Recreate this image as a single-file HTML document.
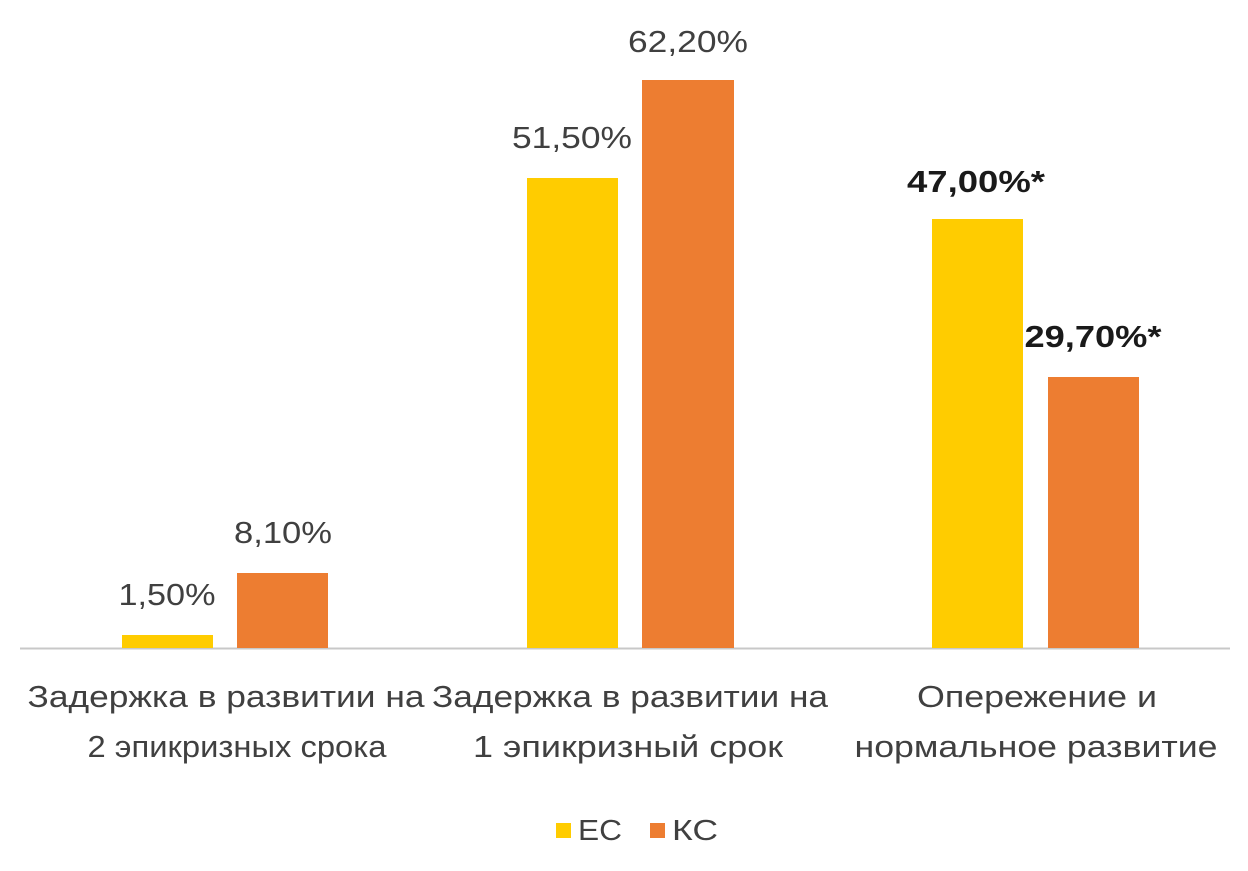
<!DOCTYPE html>
<html><head><meta charset="utf-8"><style>
body{margin:0;background:#fff;}
svg text{font-family:"Liberation Sans","DejaVu Sans",sans-serif;fill:#404040;}
</style></head><body>
<svg width="1248" height="866" viewBox="0 0 1248 866" xmlns="http://www.w3.org/2000/svg">
<rect width="1248" height="866" fill="#fff"/>
<line x1="20" y1="648.5" x2="1230" y2="648.5" stroke="#c8c8c8" stroke-width="2"/>
<rect x="122" y="635" width="91" height="13" fill="#FFCC00"/>
<rect x="237" y="573" width="91" height="75" fill="#ED7D31"/>
<rect x="527" y="178" width="91" height="470" fill="#FFCC00"/>
<rect x="642" y="80" width="92" height="568" fill="#ED7D31"/>
<rect x="932" y="219" width="91" height="429" fill="#FFCC00"/>
<rect x="1048" y="377" width="91" height="271" fill="#ED7D31"/>
<g font-size="31" text-anchor="middle">
<text x="167" y="605" textLength="97" lengthAdjust="spacingAndGlyphs">1,50%</text>
<text x="283" y="543" textLength="98" lengthAdjust="spacingAndGlyphs">8,10%</text>
<text x="572" y="148" textLength="120" lengthAdjust="spacingAndGlyphs">51,50%</text>
<text x="688" y="52" textLength="120" lengthAdjust="spacingAndGlyphs">62,20%</text>
<text x="976" y="192" font-weight="bold" style="fill:#1a1a1a" textLength="138" lengthAdjust="spacingAndGlyphs">47,00%*</text>
<text x="1093" y="347" font-weight="bold" style="fill:#1a1a1a" textLength="137" lengthAdjust="spacingAndGlyphs">29,70%*</text>
<text x="226" y="707" textLength="397" lengthAdjust="spacingAndGlyphs">Задержка в развитии на</text>
<text x="237" y="757" textLength="299" lengthAdjust="spacingAndGlyphs">2 эпикризных срока</text>
<text x="630" y="707" textLength="396" lengthAdjust="spacingAndGlyphs">Задержка в развитии на</text>
<text x="628" y="757" textLength="310" lengthAdjust="spacingAndGlyphs">1 эпикризный срок</text>
<text x="1037" y="707" textLength="240" lengthAdjust="spacingAndGlyphs">Опережение и</text>
<text x="1036" y="757" textLength="363" lengthAdjust="spacingAndGlyphs">нормальное развитие</text>
</g>
<rect x="556" y="823" width="15" height="15" fill="#FFCC00"/>
<text x="578" y="840" font-size="29" textLength="44" lengthAdjust="spacingAndGlyphs">ЕС</text>
<rect x="650" y="823" width="15" height="15" fill="#ED7D31"/>
<text x="672" y="840" font-size="29" textLength="46" lengthAdjust="spacingAndGlyphs">КС</text>
</svg>
</body></html>
